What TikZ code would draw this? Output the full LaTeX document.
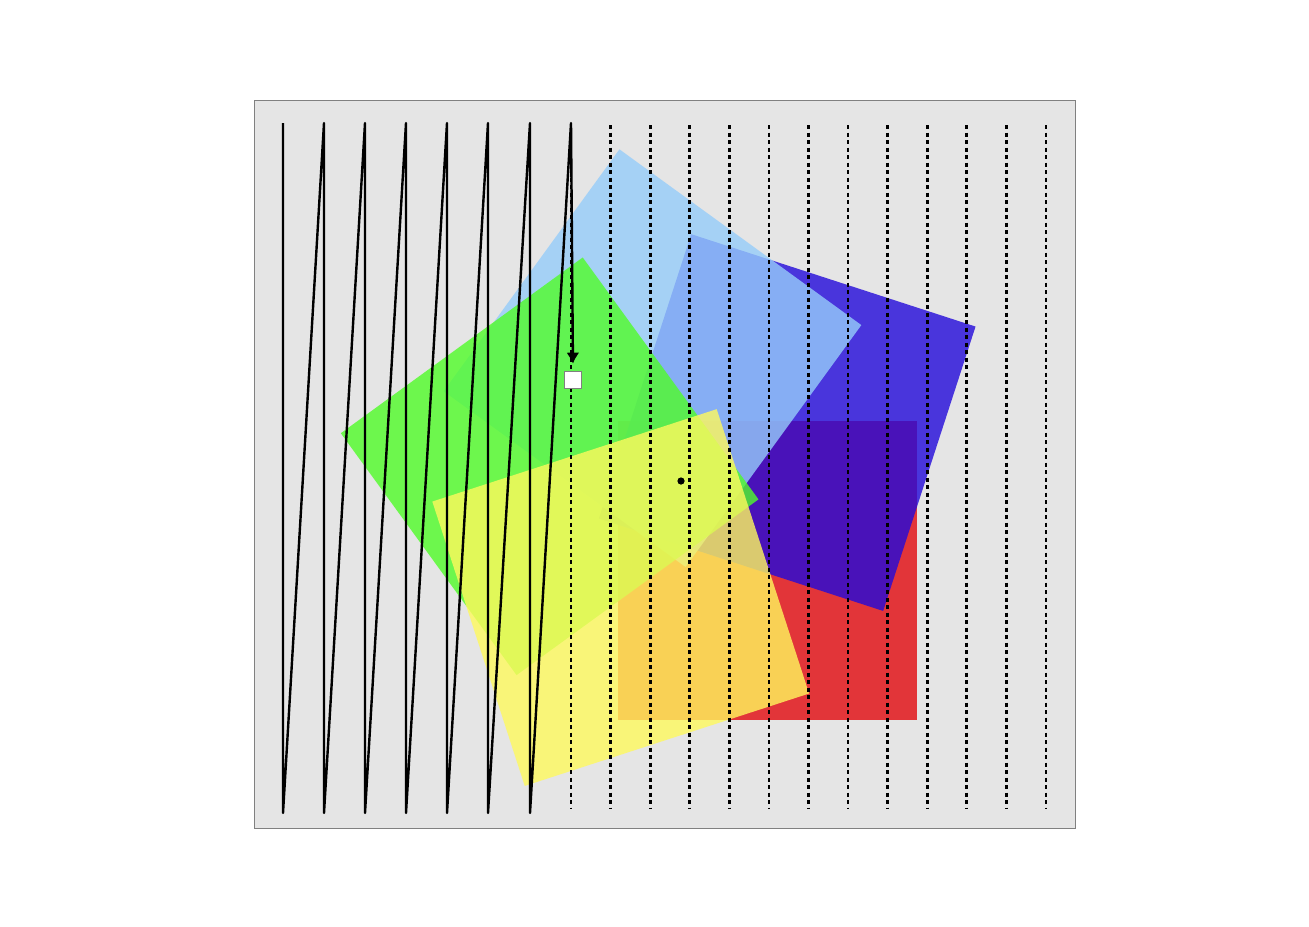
\documentclass[tikz,border=0pt]{standalone}
\usetikzlibrary{arrows.meta}
\definecolor{bggray}{RGB}{229,229,229}
\definecolor{framegray}{RGB}{128,128,128}
\definecolor{sqred}{RGB}{226,10,15}
\definecolor{sqblue}{RGB}{35,10,218}
\definecolor{sqlblue}{RGB}{150,205,250}
\definecolor{sqgreen}{RGB}{80,252,40}
\definecolor{sqyellow}{RGB}{255,249,93}
\begin{document}
\begin{tikzpicture}[x=0.5pt,y=-0.5pt,
  frame/.style={fill=bggray,draw=framegray,line width=0.5pt},
  tile/.style={opacity=0.8},
  zig/.style={line width=1.2pt,line join=round},
  dashline/.style={line width=1.35pt,dash pattern=on 2.2pt off 1.55pt},
  marker/.style={draw=framegray,fill=white,minimum size=8.7pt,inner sep=0pt,line width=0.6pt},
  dotmark/.style={circle,fill=black,minimum size=3.6pt,inner sep=0pt}]
\useasboundingbox (0,0) rectangle (1309,926);
\fill[white] (0,0) rectangle (1309,926);
\draw[frame] (254,100) rectangle (1075,828);
\coordinate (c) at (675.5,483);
\foreach \k/\col in {0/sqred,1/sqblue,2/sqlblue,3/sqgreen,4/sqyellow}
  \fill[tile,fill=\col,rotate around={72*\k:(c)}] (618,421) -- (917,421) -- (917,720) -- (618,720) -- cycle;
% dashed verticals
\foreach \i in {0,...,12}{
  \coordinate (dt\i) at (571+39.583*\i,125);
  \coordinate (db\i) at (571+39.583*\i,808);
  \draw[dashline] (dt\i) -- (db\i);
}
% zigzag coordinates
\foreach \i/\x in {1/283,2/324,3/365,4/406,5/447,6/488,7/530,8/571}{
  \coordinate (t\i) at (\x,123);
  \coordinate (b\i) at (\x,813);
}
\node[marker] (sq) at (573,380) {};
\node[dotmark] (dot) at (681,481) {};
\draw[zig,-{Latex[length=5.5pt,width=6.5pt]},shorten >=3.5pt]
  (t1) -- (b1) -- (t2) -- (b2) -- (t3) -- (b3) -- (t4) -- (b4) -- (t5) -- (b5)
  -- (t6) -- (b6) -- (t7) -- (b7) -- (t8) -- (sq.north);
\end{tikzpicture}
\end{document}
